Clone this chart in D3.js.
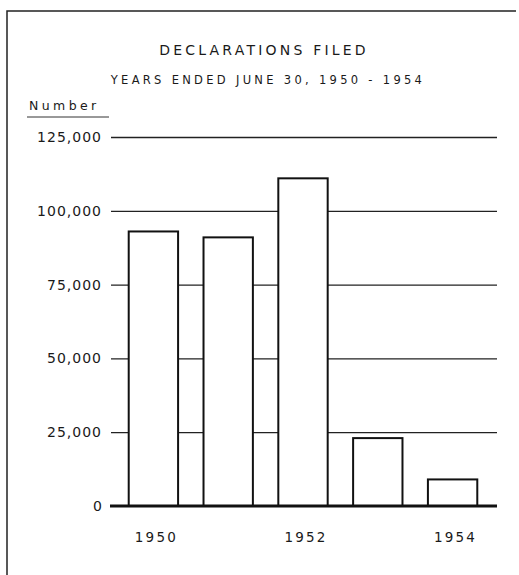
<!DOCTYPE html>
<html>
<head>
<meta charset="utf-8">
<script src="https://cdn.jsdelivr.net/npm/d3@7"></script>
<style>
  body { margin: 0; background: #fff; }
  text { font-family: "DejaVu Sans", sans-serif; fill: #1a1a1a; }
</style>
</head>
<body>
<svg id="chart" width="519" height="575"></svg>
<script>
const width = 519, height = 575;
const svg = d3.select("#chart");

// data
const years = ["1950", "1951", "1952", "1953", "1954"];
const declarations = [93000, 91000, 111000, 23000, 9000];
const yTicks = [0, 25000, 50000, 75000, 100000, 125000];
const xLabels = ["1950", "1952", "1954"];

const x = d3.scaleBand()
    .domain(years)
    .range([116, 490])
    .paddingInner(0.34)
    .paddingOuter(0.17);

const y = d3.scaleLinear()
    .domain([0, 125000])
    .range([506, 137]);

// frame (left and top edges only)
svg.append("path")
    .attr("d", `M7,${height} L7,11 L516,11`)
    .attr("fill", "none")
    .attr("stroke", "#222")
    .attr("stroke-width", 1.5);

// titles
svg.append("text")
    .attr("x", 264).attr("y", 55)
    .attr("text-anchor", "middle")
    .style("font-size", "14px")
    .style("letter-spacing", "3.2px")
    .text("DECLARATIONS FILED");

svg.append("text")
    .attr("x", 268).attr("y", 84)
    .attr("text-anchor", "middle")
    .style("font-size", "11.5px")
    .style("letter-spacing", "3.3px")
    .text("YEARS ENDED JUNE 30, 1950 - 1954");

svg.append("text")
    .attr("x", 29).attr("y", 110)
    .style("font-size", "12.5px")
    .style("letter-spacing", "3.4px")
    .text("Number");

svg.append("line")
    .attr("x1", 27).attr("x2", 109)
    .attr("y1", 117).attr("y2", 117)
    .attr("stroke", "#333").attr("stroke-width", 1);

// gridlines + labels via axis
const yAxis = d3.axisLeft(y)
    .tickValues(yTicks.filter(d => d > 0))
    .tickSize(-(497 - 111))
    .tickPadding(9)
    .tickFormat(d3.format(","));

const gy = svg.append("g")
    .attr("transform", "translate(111,0)")
    .call(yAxis);
gy.select(".domain").remove();
gy.selectAll(".tick line").attr("stroke", "#222").attr("stroke-width", 1.3);
gy.selectAll(".tick text")
    .style("font-size", "14px")
    .style("letter-spacing", "1px")
    .attr("fill", "#2a2a2a");

// bars
svg.append("g").selectAll("rect")
    .data(declarations)
    .join("rect")
    .attr("x", (d, i) => x(years[i]))
    .attr("width", x.bandwidth())
    .attr("y", d => y(d))
    .attr("height", d => y(0) - y(d))
    .attr("fill", "#fff")
    .attr("stroke", "#111")
    .attr("stroke-width", 2);

// zero baseline
svg.append("line")
    .attr("x1", 110).attr("x2", 497)
    .attr("y1", y(0)).attr("y2", y(0))
    .attr("stroke", "#111").attr("stroke-width", 3);

svg.append("text")
    .attr("x", 102).attr("y", y(0) + 5)
    .attr("text-anchor", "end")
    .style("font-size", "14px")
    .attr("fill", "#2a2a2a")
    .text(d3.format(",")(yTicks[0]));

// x labels
svg.append("g").selectAll("text")
    .data(xLabels)
    .join("text")
    .attr("x", d => x(d) + x.bandwidth() / 2 + 3)
    .attr("y", 542)
    .attr("text-anchor", "middle")
    .style("font-size", "13.5px")
    .style("letter-spacing", "2.2px")
    .text(d => d);
</script>
</body>
</html>
